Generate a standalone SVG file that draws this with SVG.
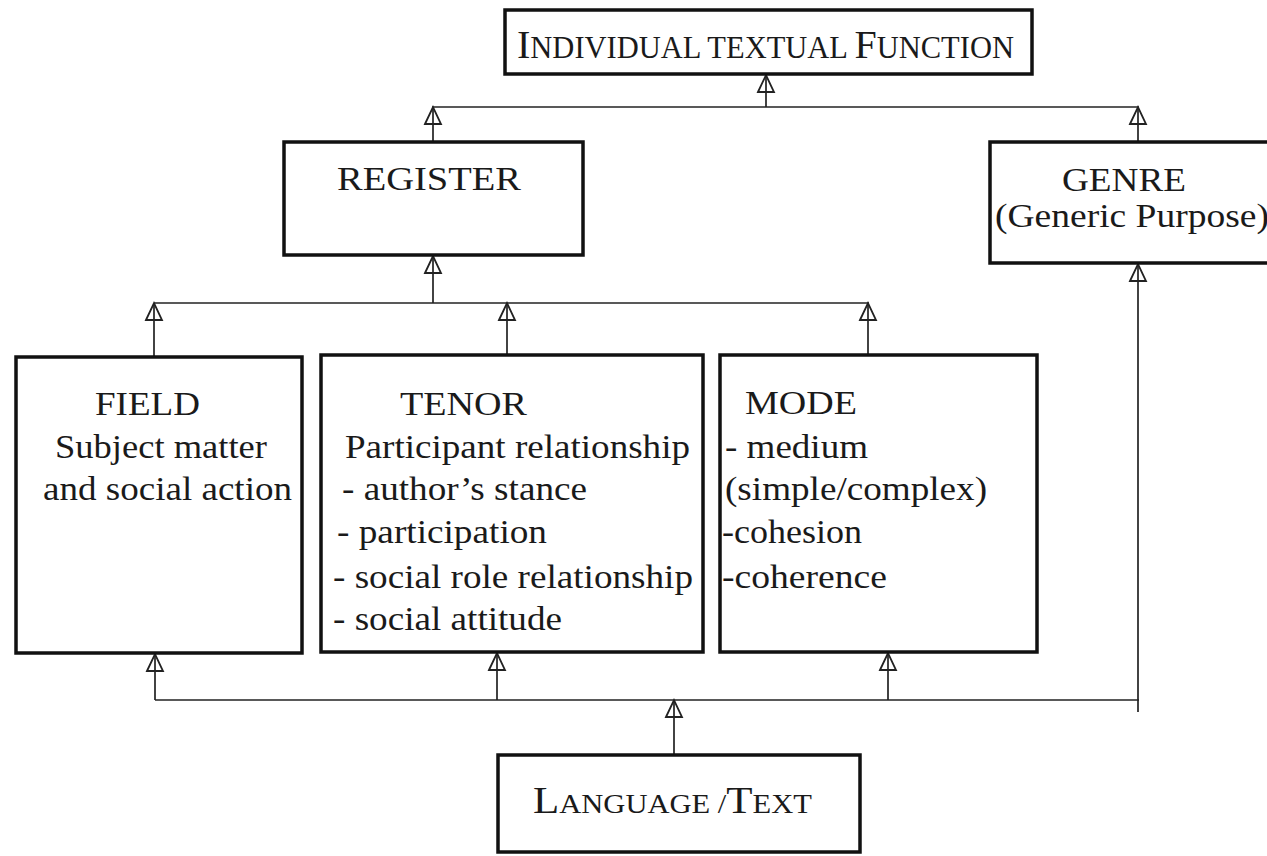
<svg xmlns="http://www.w3.org/2000/svg" width="1267" height="856" viewBox="0 0 1267 856">
  <style>
    .box { fill: #ffffff; stroke: #111111; stroke-width: 3.5; }
    .con { fill: none; stroke: #222222; stroke-width: 1.7; }
    .t { font-family: "Liberation Serif", "Times New Roman", serif; font-size: 34px; fill: #1a1a1a; }
    .sc { font-family: "Liberation Serif", "Times New Roman", serif; fill: #1a1a1a; }
  </style>
  <defs>
    <marker id="arr" markerUnits="userSpaceOnUse" markerWidth="22" markerHeight="22" refX="19" refY="10" orient="auto" viewBox="0 0 22 20">
      <path d="M2,2 L19,10 L2,18 Z" fill="none" stroke="#222222" stroke-width="1.8"/>
    </marker>
  </defs>
  <rect width="1267" height="856" fill="#ffffff"/>

  <g id="connectors">
    <line class="con" x1="766" y1="107" x2="766" y2="75" marker-end="url(#arr)"/>
    <line class="con" x1="432" y1="107" x2="1139" y2="107"/>
    <line class="con" x1="433" y1="142" x2="433" y2="107" marker-end="url(#arr)"/>
    <line class="con" x1="1138" y1="142" x2="1138" y2="107" marker-end="url(#arr)"/>

    <line class="con" x1="433" y1="303" x2="433" y2="256" marker-end="url(#arr)"/>
    <line class="con" x1="154" y1="303" x2="869" y2="303"/>
    <line class="con" x1="154" y1="357" x2="154" y2="303" marker-end="url(#arr)"/>
    <line class="con" x1="507" y1="355" x2="507" y2="303" marker-end="url(#arr)"/>
    <line class="con" x1="868" y1="355" x2="868" y2="303" marker-end="url(#arr)"/>

    <line class="con" x1="155" y1="700" x2="155" y2="654" marker-end="url(#arr)"/>
    <line class="con" x1="497" y1="700" x2="497" y2="653" marker-end="url(#arr)"/>
    <line class="con" x1="888" y1="700" x2="888" y2="653" marker-end="url(#arr)"/>
    <line class="con" x1="155" y1="700" x2="1139" y2="700"/>
    <line class="con" x1="674" y1="755" x2="674" y2="700" marker-end="url(#arr)"/>
    <line class="con" x1="1138" y1="712" x2="1138" y2="264" marker-end="url(#arr)"/>
  </g>

  <g id="individual-textual-function">
    <rect class="box" x="505" y="10" width="527" height="64"/>
    <text class="sc" x="517" y="58"><tspan font-size="40">I</tspan><tspan font-size="30.5">NDIVIDUAL TEXTUAL </tspan><tspan font-size="40">F</tspan><tspan font-size="30.5">UNCTION</tspan></text>
  </g>

  <g id="register">
    <rect class="box" x="284" y="142" width="299" height="113"/>
    <text class="t" x="337" y="190" textLength="184" lengthAdjust="spacingAndGlyphs">REGISTER</text>
  </g>

  <g id="genre">
    <rect class="box" x="990" y="142" width="290" height="121"/>
    <text class="t" x="1062" y="191" textLength="124" lengthAdjust="spacingAndGlyphs">GENRE</text>
    <text class="t" x="995" y="227" textLength="274" lengthAdjust="spacingAndGlyphs">(Generic Purpose)</text>
  </g>

  <g id="field">
    <rect class="box" x="16" y="357" width="286" height="296"/>
    <text class="t" x="95" y="415" textLength="105" lengthAdjust="spacingAndGlyphs">FIELD</text>
    <text class="t" x="55" y="458" textLength="212" lengthAdjust="spacingAndGlyphs">Subject matter</text>
    <text class="t" x="43" y="500" textLength="249" lengthAdjust="spacingAndGlyphs">and social action</text>
  </g>

  <g id="tenor">
    <rect class="box" x="321" y="355" width="382" height="297"/>
    <text class="t" x="400" y="415" textLength="127" lengthAdjust="spacingAndGlyphs">TENOR</text>
    <text class="t" x="345" y="458" textLength="345" lengthAdjust="spacingAndGlyphs">Participant relationship</text>
    <text class="t" x="342" y="500" textLength="245" lengthAdjust="spacingAndGlyphs">- author’s stance</text>
    <text class="t" x="337" y="543" textLength="210" lengthAdjust="spacingAndGlyphs">- participation</text>
    <text class="t" x="333" y="588" textLength="360" lengthAdjust="spacingAndGlyphs">- social role relationship</text>
    <text class="t" x="333" y="630" textLength="229" lengthAdjust="spacingAndGlyphs">- social attitude</text>
  </g>

  <g id="mode">
    <rect class="box" x="720" y="355" width="317" height="297"/>
    <text class="t" x="745" y="414" textLength="112" lengthAdjust="spacingAndGlyphs">MODE</text>
    <text class="t" x="725" y="458" textLength="143" lengthAdjust="spacingAndGlyphs">- medium</text>
    <text class="t" x="725" y="500" textLength="262" lengthAdjust="spacingAndGlyphs">(simple/complex)</text>
    <text class="t" x="722" y="543" textLength="140" lengthAdjust="spacingAndGlyphs">-cohesion</text>
    <text class="t" x="722" y="588" textLength="165" lengthAdjust="spacingAndGlyphs">-coherence</text>
  </g>

  <g id="language-text">
    <rect class="box" x="498" y="755" width="362" height="97"/>
    <text class="sc" x="533" y="813" textLength="279" lengthAdjust="spacingAndGlyphs"><tspan font-size="38">L</tspan><tspan font-size="27">ANGUAGE /</tspan><tspan font-size="38">T</tspan><tspan font-size="27">EXT</tspan></text>
  </g>
</svg>
